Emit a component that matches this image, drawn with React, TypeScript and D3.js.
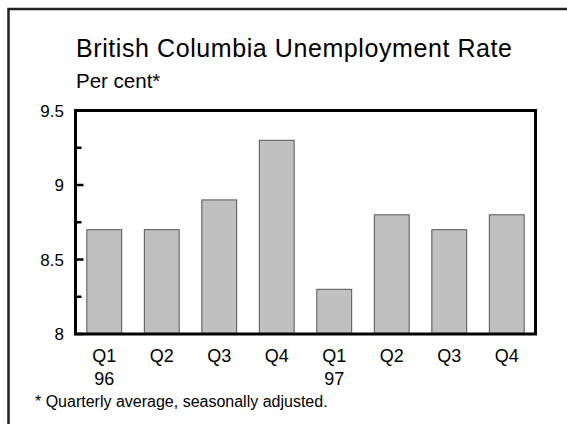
import React from "react";
import * as d3 from "d3";

const categories = ["Q1", "Q2", "Q3", "Q4", "Q1", "Q2", "Q3", "Q4"];
const yearLabels = ["96", "", "", "", "97", "", "", ""];
const values = [8.7, 8.7, 8.9, 9.3, 8.3, 8.8, 8.7, 8.8];
const majorTicks = [8, 8.5, 9, 9.5];
const minorTicks = [8.25, 8.75, 9.25];
const title = "British Columbia Unemployment Rate";
const subtitle = "Per cent*";
const footnote = "* Quarterly average, seasonally adjusted.";

const W = 567;
const H = 424;
const left = 75.5;
const right = 535.5;
const top = 110.5;
const bottom = 334;
const font = "Liberation Sans, Arial, sans-serif";

export default function App() {
  const x = d3
    .scaleBand<number>()
    .domain(values.map((_, i) => i))
    .range([left, right])
    .paddingInner(0.394)
    .paddingOuter(0.197);
  const y = d3.scaleLinear().domain([8, 9.5]).range([bottom, top]);
  const band = (right - left) / categories.length;

  return (
    <svg
      width={W}
      height={H}
      style={{ position: "absolute", left: 0, top: 0, display: "block", background: "#fff" }}
      fontFamily={font}
    >
      <rect x={0} y={0} width={W} height={H} fill="#fff" />
      <rect x={8.5} y={9} width={W + 20} height={H + 20} fill="none" stroke="#222" strokeWidth={2.5} />
      <text x={76} y={57} fontSize={25} fill="#000" textLength={436} lengthAdjust="spacing">{title}</text>
      <text x={76} y={87.5} fontSize={20.5} fill="#000">{subtitle}</text>

      {values.map((v, i) => (
        <rect
          key={i}
          x={x(i)}
          y={y(v)}
          width={x.bandwidth()}
          height={bottom - y(v)}
          fill="#c0c0c0"
          stroke="#555"
          strokeWidth={1}
        />
      ))}

      {majorTicks.map((t) => (
        <g key={t}>
          <line x1={left} x2={left + 8} y1={y(t)} y2={y(t)} stroke="#000" strokeWidth={2.5} />
          <text x={64} y={y(t)} dy="0.36em" textAnchor="end" fontSize={17} fill="#000">
            {String(t)}
          </text>
        </g>
      ))}
      {minorTicks.map((t) => (
        <line key={t} x1={left} x2={left + 6} y1={y(t)} y2={y(t)} stroke="#000" strokeWidth={2.5} />
      ))}

      <rect x={left} y={top} width={right - left} height={bottom - top} fill="none" stroke="#000" strokeWidth={3} />

      {categories.map((c, i) => {
        const cx = left + band * (i + 0.5);
        return (
          <g key={i}>
            <text x={cx} y={362} textAnchor="middle" fontSize={18} fill="#000">{c}</text>
            {yearLabels[i] && (
              <text x={cx} y={384.5} textAnchor="middle" fontSize={18} fill="#000">{yearLabels[i]}</text>
            )}
          </g>
        );
      })}

      <text x={35} y={407} fontSize={16} fill="#000">{footnote}</text>
    </svg>
  );
}
